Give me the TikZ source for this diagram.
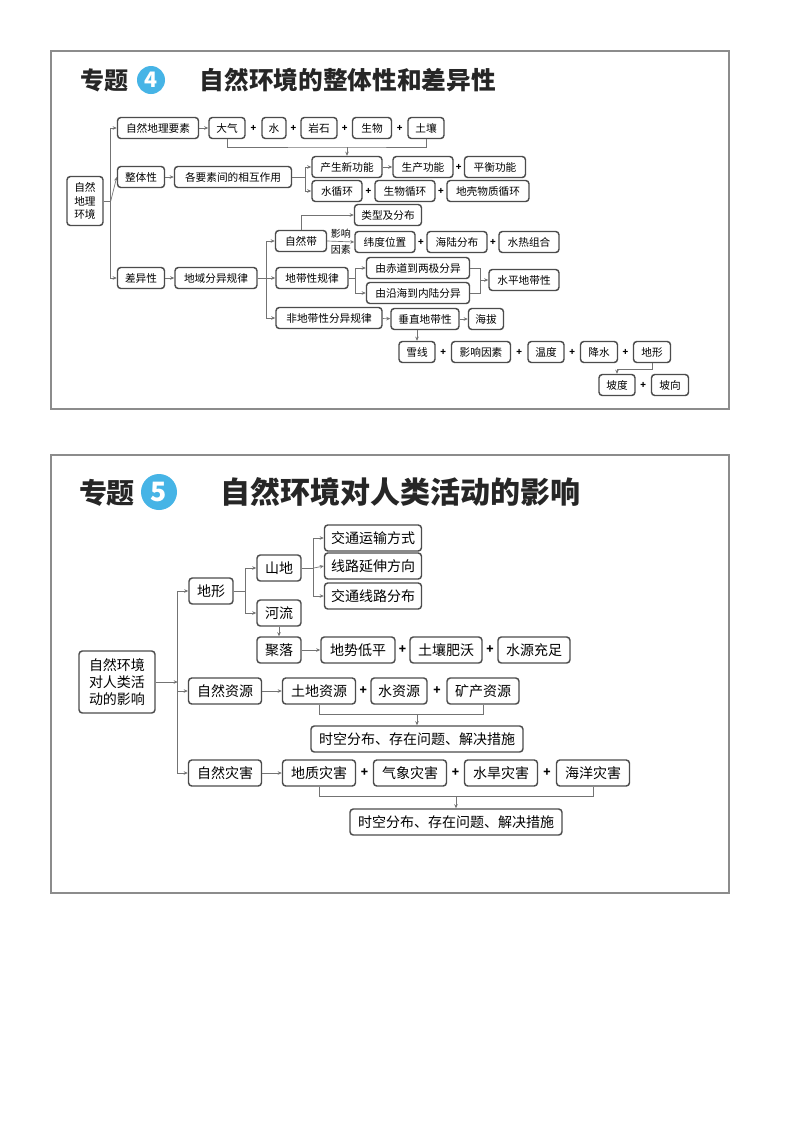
\documentclass[tikz,border=0pt]{standalone}
\usepackage{fontspec}
\setmainfont{Noto Sans CJK SC}
\usetikzlibrary{arrows.meta,calc}
\definecolor{tblue}{RGB}{70,180,230}
\tikzset{
 bx/.style={draw=black!70,line width=1.1pt,rounded corners=2.5pt,fill=white,inner sep=1pt,font=\fontsize{8}{9}\selectfont,minimum height=21*0.75pt},
 bb/.style={bx,font=\fontsize{10.5}{12}\selectfont,minimum height=26*0.75pt},
 w/.style={minimum width=#1*0.75pt},
 ln/.style={draw=black!55,line width=0.5pt},
 ar/.style={ln,-{Stealth[length=3pt,width=2.6pt]}},
 pls/.style={font=\fontsize{7}{8}\selectfont\bfseries,inner sep=0pt},
 plb/.style={font=\fontsize{9}{10}\selectfont\bfseries,inner sep=0pt},
 frm/.style={draw=black!45,line width=1.2pt},
}
\newcommand\pl[2]{\node[pls] at ($(#1.east)!0.5!(#2.west)$) {+};}
\newcommand\plB[2]{\node[plb] at ($(#1.east)!0.5!(#2.west)$) {+};}
\begin{document}
\begin{tikzpicture}[x=0.75pt,y=-0.75pt]
\useasboundingbox (0,0) rectangle (800,1133);
\fill[white] (0,0) rectangle (800,1133);
% ===== panel 4 =====
\draw[frm] (51,51) rectangle (729,409);
\node[font=\fontsize{18}{20}\selectfont\bfseries,text=black!85] (t4a) at (104,80) {专题};
\node[circle,fill=tblue,minimum size=28*0.75pt,inner sep=0pt,text=white,font=\fontsize{16}{18}\selectfont\bfseries] (t4c) at (151,80) {4};
\node[anchor=west,font=\fontsize{18.5}{20}\selectfont\bfseries,text=black!85] (t4b) at (195,80) {自然环境的整体性和差异性};

\node[bx,w=36,minimum height=49*0.75pt,align=center,font=\fontsize{8}{10}\selectfont] (r4) at (85,201) {自然\\地理\\环境};
\node[bx,w=81] (a1) at (158,128) {自然地理要素};
\node[bx,w=36] (a2) at (227,128) {大气};
\node[bx,w=24] (a3) at (274,128) {水};
\node[bx,w=36] (a4) at (319,128) {岩石};
\node[bx,w=39] (a5) at (372,128) {生物};
\node[bx,w=36] (a6) at (426,128) {土壤};
\node[bx,w=47] (b1) at (141,177) {整体性};
\node[bx,w=117] (b2) at (233,177) {各要素间的相互作用};
\node[bx,w=70] (b3) at (347,167) {产生新功能};
\node[bx,w=60] (b4) at (423,167) {生产功能};
\node[bx,w=61] (b5) at (495,167) {平衡功能};
\node[bx,w=50] (b6) at (337,191) {水循环};
\node[bx,w=60] (b7) at (405,191) {生物循环};
\node[bx,w=82] (b8) at (488,191) {地壳物质循环};
\node[bx,w=47] (c1) at (141,278) {差异性};
\node[bx,w=82] (c2) at (216,278) {地域分异规律};
\node[bx,w=51] (c3) at (301,241) {自然带};
\node[bx,w=67] (c4) at (388,215) {类型及分布};
\node[bx,w=60] (c5) at (385,242) {纬度位置};
\node[bx,w=60] (c6) at (457,242) {海陆分布};
\node[bx,w=60] (c7) at (529,242) {水热组合};
\node[bx,w=72] (c8) at (312,278) {地带性规律};
\node[bx,w=103] (c9) at (418,268) {由赤道到两极分异};
\node[bx,w=103] (c10) at (418,293) {由沿海到内陆分异};
\node[bx,w=70] (c11) at (524,280) {水平地带性};
\node[bx,w=106] (c12) at (329,318) {非地带性分异规律};
\node[bx,w=68] (c13) at (425,319) {垂直地带性};
\node[bx,w=35] (c14) at (486,319) {海拔};
\node[bx,w=36] (c15) at (417,352) {雪线};
\node[bx,w=59] (c16) at (481,352) {影响因素};
\node[bx,w=36] (c17) at (546,352) {温度};
\node[bx,w=37] (c18) at (599,352) {降水};
\node[bx,w=37] (c19) at (652,352) {地形};
\node[bx,w=36] (c20) at (617,385) {坡度};
\node[bx,w=37] (c21) at (670,385) {坡向};

\pl{a2}{a3}\pl{a3}{a4}\pl{a4}{a5}\pl{a5}{a6}
\pl{b4}{b5}\pl{b6}{b7}\pl{b7}{b8}
\pl{c5}{c6}\pl{c6}{c7}
\pl{c15}{c16}\pl{c16}{c17}\pl{c17}{c18}\pl{c18}{c19}\pl{c20}{c21}

\draw[ln] (r4.east) -- ++(7,0);
\draw[ar] (r4.east) ++(7,0) |- (a1.west);
\draw[ar] (r4.east) ++(7,0) -- (b1.west);
\draw[ar] (r4.east) ++(7,0) |- (c1.west);
\draw[ar] (a1) -- (a2);
\coordinate (j1) at (347,147);
\draw[ln] (a2.south) |- (j1) -| (a6.south);
\draw[ar] (j1) -- (b3.north);
\draw[ar] (b1) -- (b2);
\draw[ar] (b2.east) -- ++(13,0) |- (b3.west);
\draw[ar] (b2.east) ++(13,0) |- (b6.west);
\draw[ar] (b3) -- (b4);
\draw[ar] (c1) -- (c2);
\draw[ar] (c2.east) -- ++(9,0) |- (c3.west);
\draw[ar] (c2.east) ++(9,0) -- (c8.west);
\draw[ar] (c2.east) ++(9,0) |- (c12.west);
\draw[ar] (c3.north) |- (c4.west);
\draw[ar] (c3.east) -- node[above=-1pt,font=\fontsize{7.5}{8}\selectfont]{影响} node[below=-1pt,font=\fontsize{7.5}{8}\selectfont]{因素} (c5.west);
\draw[ar] (c8.east) -- ++(7,0) |- (c9.west);
\draw[ar] (c8.east) ++(7,0) |- (c10.west);
\coordinate (j2) at (480,280);
\draw[ln] (c9.east) -| (j2);
\draw[ln] (c10.east) -| (j2);
\draw[ar] (j2) -- (c11.west);
\draw[ar] (c12) -- (c13);
\draw[ar] (c13) -- (c14);
\draw[ar] (c13.south -| c15.north) -- (c15.north);
\draw[ar] (c19.south) -- ++(0,6) -| (c20.north);

% ===== panel 5 =====
\draw[frm] (51,455) rectangle (729,893);
\node[font=\fontsize{21}{23}\selectfont\bfseries,text=black!85] (t5a) at (107,493) {专题};
\node[circle,fill=tblue,minimum size=36*0.75pt,inner sep=0pt,text=white,font=\fontsize{20}{22}\selectfont\bfseries] (t5c) at (159,492) {5};
\node[anchor=west,font=\fontsize{22.5}{24}\selectfont\bfseries,text=black!85] (t5b) at (216,492) {自然环境对人类活动的影响};

\node[bb,w=76,minimum height=62*0.75pt,align=center,font=\fontsize{10.5}{13}\selectfont] (R) at (117,682) {自然环境\\对人类活\\动的影响};
\node[bb,w=44] (d1) at (211,591) {地形};
\node[bb,w=44] (d2) at (279,568) {山地};
\node[bb,w=44] (d3) at (279,613) {河流};
\node[bb,w=97] (d4) at (373,538) {交通运输方式};
\node[bb,w=97] (d5) at (373,566) {线路延伸方向};
\node[bb,w=97] (d6) at (373,596) {交通线路分布};
\node[bb,w=44] (d7) at (279,650) {聚落};
\node[bb,w=74] (d8) at (358,650) {地势低平};
\node[bb,w=72] (d9) at (446,650) {土壤肥沃};
\node[bb,w=72] (d10) at (534,650) {水源充足};
\node[bb,w=73] (e1) at (225,691) {自然资源};
\node[bb,w=73] (e2) at (319,691) {土地资源};
\node[bb,w=56] (e3) at (399,691) {水资源};
\node[bb,w=72] (e4) at (483,691) {矿产资源};
\node[bb,w=212] (e5) at (417,739) {时空分布、存在问题、解决措施};
\node[bb,w=73] (f1) at (225,773) {自然灾害};
\node[bb,w=73] (f2) at (319,773) {地质灾害};
\node[bb,w=73] (f3) at (410,773) {气象灾害};
\node[bb,w=73] (f4) at (501,773) {水旱灾害};
\node[bb,w=73] (f5) at (593,773) {海洋灾害};
\node[bb,w=212] (f6) at (456,822) {时空分布、存在问题、解决措施};

\plB{d8}{d9}\plB{d9}{d10}
\plB{e2}{e3}\plB{e3}{e4}
\plB{f2}{f3}\plB{f3}{f4}\plB{f4}{f5}

\draw[ar] (R.east) -- ++(22,0);
\draw[ar] (R.east) ++(22,0) |- (d1.west);
\draw[ar] (R.east) ++(22,0) |- (e1.west);
\draw[ar] (R.east) ++(22,0) |- (f1.west);
\draw[ar] (d1.east) -- ++(12,0) |- (d2.west);
\draw[ar] (d1.east) ++(12,0) |- (d3.west);
\draw[ar] (d2.east) -- ++(12,0) |- (d4.west);
\draw[ar] (d2.east) ++(12,0) -- (d5.west);
\draw[ar] (d2.east) ++(12,0) |- (d6.west);
\draw[ar] (d3.south) -- (d7.north);
\draw[ar] (d7) -- (d8);
\draw[ar] (e1) -- (e2);
\coordinate (j3) at (417,714);
\draw[ln] (e2.south) |- (j3) -| (e4.south);
\draw[ar] (j3) -- (e5.north);
\draw[ar] (f1) -- (f2);
\coordinate (j4) at (456,796);
\draw[ln] (f2.south) |- (j4) -| (f5.south);
\draw[ar] (j4) -- (f6.north);
\end{tikzpicture}
\end{document}
